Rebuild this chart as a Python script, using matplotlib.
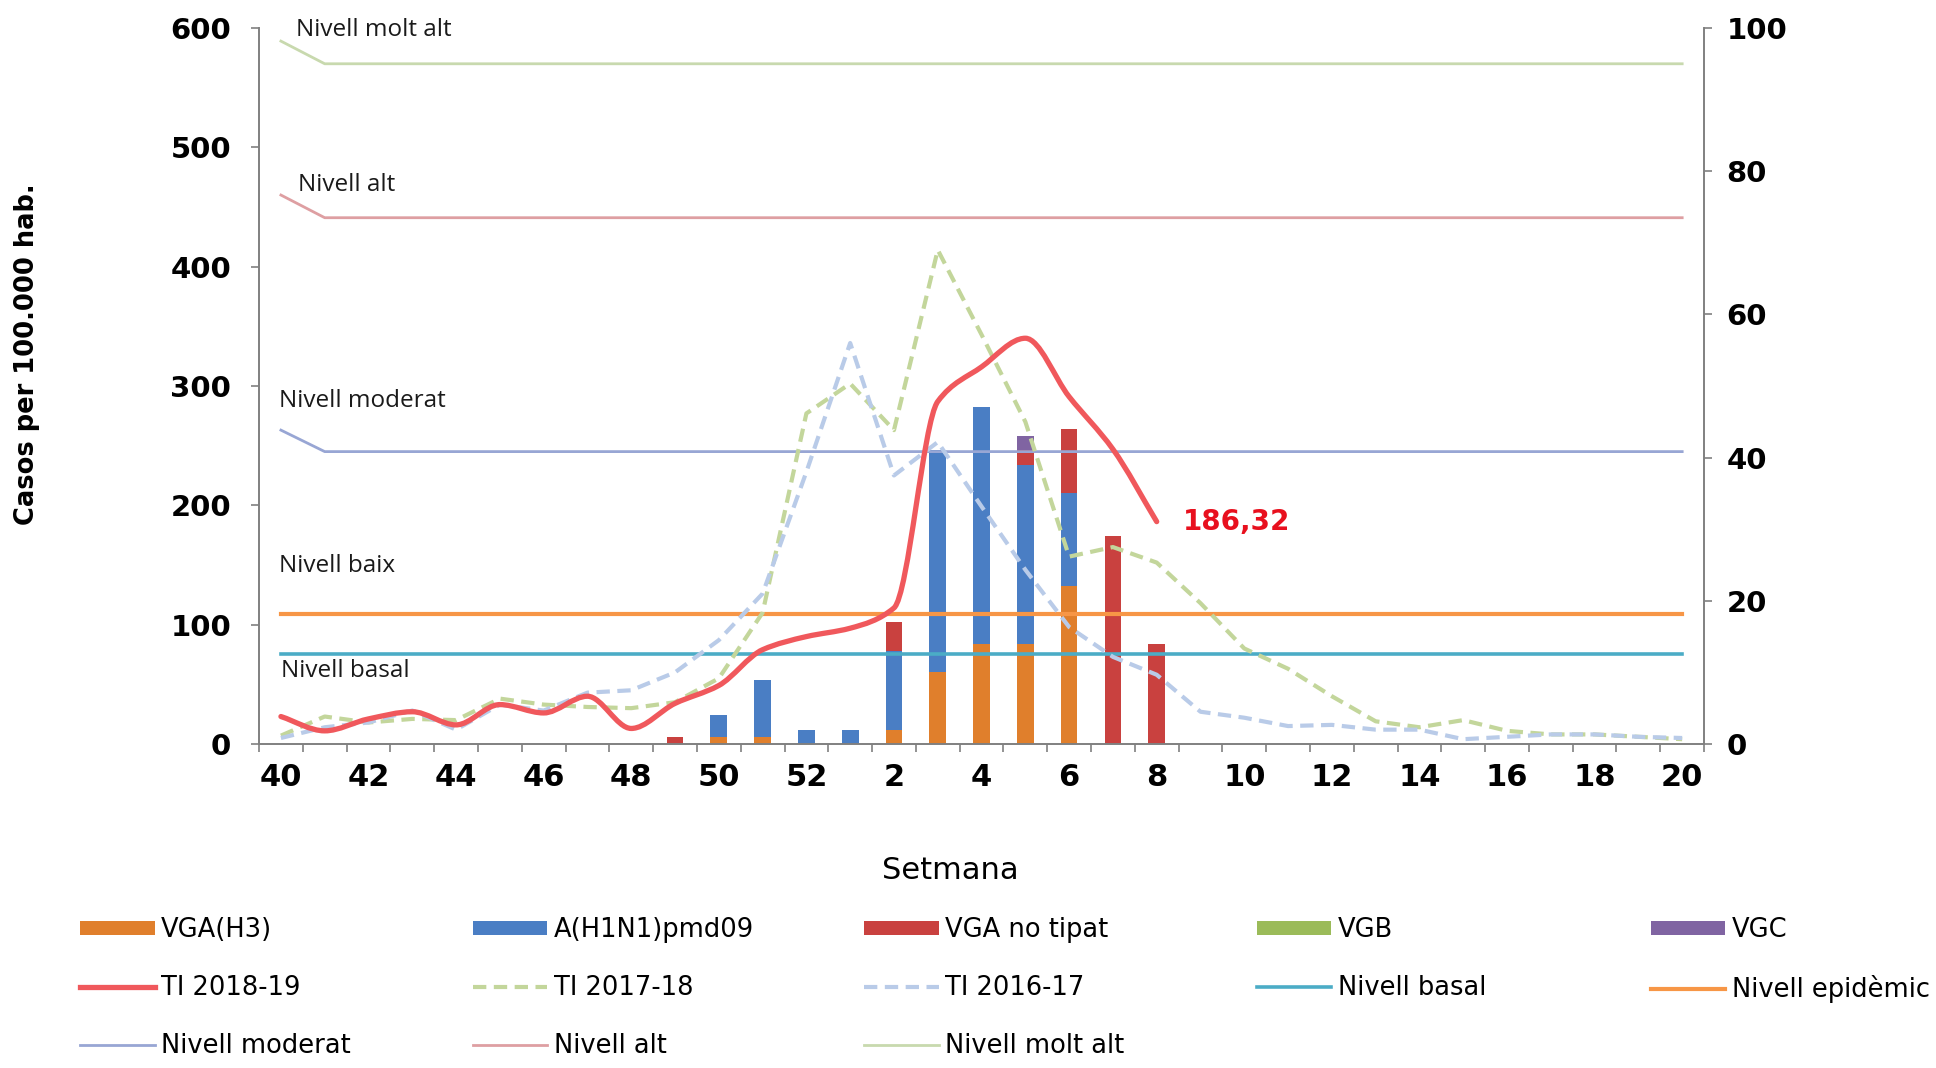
import numpy as np
import matplotlib.pyplot as plt
import matplotlib.patches as mpatches
from matplotlib.path import Path
from matplotlib.lines import Line2D

# setmanes de la temporada (40..52, 1..20)
setmanes = [40, 41, 42, 43, 44, 45, 46, 47, 48, 49, 50, 51, 52,
            1, 2, 3, 4, 5, 6, 7, 8, 9, 10, 11, 12, 13, 14, 15, 16, 17, 18, 19, 20]

# deteccions per tipus de virus (eix dret)
vga_h3 = [0, 0, 0, 0, 0, 0, 0, 0, 0, 0, 1, 1, 0, 0, 2, 10, 14, 14, 22, 0, 0,
          0, 0, 0, 0, 0, 0, 0, 0, 0, 0, 0, 0]
a_h1n1 = [0, 0, 0, 0, 0, 0, 0, 0, 0, 0, 3, 8, 2, 2, 11, 31, 33, 25, 13, 0, 0,
          0, 0, 0, 0, 0, 0, 0, 0, 0, 0, 0, 0]
vga_no_tipat = [0, 0, 0, 0, 0, 0, 0, 0, 0, 1, 0, 0, 0, 0, 4, 0, 0, 2, 9, 29, 14,
                0, 0, 0, 0, 0, 0, 0, 0, 0, 0, 0, 0]
vgb = [0, 0, 0, 0, 0, 0, 0, 0, 0, 0, 0, 0, 0, 0, 0, 0, 0, 0, 0, 0, 0,
       0, 0, 0, 0, 0, 0, 0, 0, 0, 0, 0, 0]
vgc = [0, 0, 0, 0, 0, 0, 0, 0, 0, 0, 0, 0, 0, 0, 0, 0, 0, 2, 0, 0, 0,
       0, 0, 0, 0, 0, 0, 0, 0, 0, 0, 0, 0]

# taxes d'incidencia (eix esquerre)
ti_2018_19 = [23, 11, 21, 27, 16, 33, 26, 40, 13, 34, 49, 79, 90, 97, 114,
              287, 316, 340, 291, 247, 186.32]
ti_2017_18 = [7, 23, 18, 21, 20, 38, 33, 31, 30, 35, 55, 110, 277, 302, 263,
              414, 343, 270, 157, 165, 152, 118, 80, 63, 40, 19, 14, 20, 11, 8, 8, 6, 4]
ti_2016_17 = [5, 14, 18, 28, 12, 33, 28, 43, 45, 60, 87, 126, 228, 336, 225,
              253, 199, 146, 98, 73, 58, 27, 22, 15, 16, 12, 12, 4, 6, 8, 8, 6, 5]

# llindars
nivell_basal = [75, 75, 75, 75, 75, 75, 75, 75, 75, 75, 75, 75, 75, 75, 75, 75, 75,
                75, 75, 75, 75, 75, 75, 75, 75, 75, 75, 75, 75, 75, 75, 75, 75]
nivell_epidemic = [109, 109, 109, 109, 109, 109, 109, 109, 109, 109, 109, 109, 109,
                   109, 109, 109, 109, 109, 109, 109, 109, 109, 109, 109, 109, 109,
                   109, 109, 109, 109, 109, 109, 109]
nivell_moderat = [263, 245, 245, 245, 245, 245, 245, 245, 245, 245, 245, 245, 245,
                  245, 245, 245, 245, 245, 245, 245, 245, 245, 245, 245, 245, 245,
                  245, 245, 245, 245, 245, 245, 245]
nivell_alt = [460, 441, 441, 441, 441, 441, 441, 441, 441, 441, 441, 441, 441, 441,
              441, 441, 441, 441, 441, 441, 441, 441, 441, 441, 441, 441, 441, 441,
              441, 441, 441, 441, 441]
nivell_molt_alt = [589, 570, 570, 570, 570, 570, 570, 570, 570, 570, 570, 570, 570,
                   570, 570, 570, 570, 570, 570, 570, 570, 570, 570, 570, 570, 570,
                   570, 570, 570, 570, 570, 570, 570]


def smooth_path(xs, ys):
    # traç suavitzat (Bezier amb tangents monòtones, sense sobrepassar)
    n = len(xs)
    d = [(ys[k + 1] - ys[k]) / (xs[k + 1] - xs[k]) for k in range(n - 1)]
    m = [d[0]]
    for k in range(1, n - 1):
        if d[k - 1] * d[k] <= 0:
            m.append(0.0)
        else:
            m.append(2 * d[k - 1] * d[k] / (d[k - 1] + d[k]))
    m.append(d[-1])
    verts = [(xs[0], ys[0])]
    codes = [Path.MOVETO]
    for k in range(n - 1):
        h = (xs[k + 1] - xs[k]) / 3
        verts += [(xs[k] + h, ys[k] + m[k] * h),
                  (xs[k + 1] - h, ys[k + 1] - m[k + 1] * h),
                  (xs[k + 1], ys[k + 1])]
        codes += [Path.CURVE4] * 3
    return Path(verts, codes)


fig = plt.figure(figsize=(19.36, 10.68), dpi=100)
ax = fig.add_axes([0.1338, 0.3034, 0.7464, 0.6704])
ax2 = ax.twinx()
ax.set_zorder(ax2.get_zorder() + 1)
ax.patch.set_visible(False)

x = np.arange(len(setmanes))

# barres apilades
bw = 0.38
bottom = np.zeros(len(x))
barres = []
for vals, col, lab in [(vga_h3, '#e07f2c', 'VGA(H3)'),
                       (a_h1n1, '#4a7ec4', 'A(H1N1)pmd09'),
                       (vga_no_tipat, '#c9413f', 'VGA no tipat'),
                       (vgb, '#9bbb59', 'VGB'),
                       (vgc, '#8064a2', 'VGC')]:
    b = ax2.bar(x, vals, bw, bottom=bottom, color=col, label=lab, linewidth=0)
    barres.append(b)
    bottom = bottom + np.array(vals)

# llindars
l_basal, = ax.plot(x, nivell_basal, color='#4bacc6', lw=2.6, label='Nivell basal')
l_epi, = ax.plot(x, nivell_epidemic, color='#f79646', lw=3.0, label='Nivell epidèmic')
l_mod, = ax.plot(x, nivell_moderat, color='#98a6d4', lw=2.0, label='Nivell moderat')
l_alt, = ax.plot(x, nivell_alt, color='#de9fa2', lw=2.0, label='Nivell alt')
l_molt, = ax.plot(x, nivell_molt_alt, color='#c8d9ae', lw=2.0, label='Nivell molt alt')

# temporades anteriors
l_1718, = ax.plot(x[:len(ti_2017_18)], ti_2017_18, color='#c3d69b', lw=3.0,
                  dashes=(3.2, 1.8), label='TI 2017-18')
l_1617, = ax.plot(x[:len(ti_2016_17)], ti_2016_17, color='#b9cbe8', lw=3.0,
                  dashes=(3.2, 1.8), label='TI 2016-17')

# temporada actual
red = '#f0585c'
xr = x[:len(ti_2018_19)]
ax.add_patch(mpatches.PathPatch(smooth_path(xr, ti_2018_19), facecolor='none',
                                edgecolor=red, lw=3.8, capstyle='round', zorder=5))
l_1819 = Line2D([], [], color=red, lw=3.8, label='TI 2018-19')
ax.text(xr[-1] + 0.6, ti_2018_19[-1], '186,32', color='#e8101e', fontsize=20,
        fontweight='bold', ha='left', va='center')

# etiquetes dels nivells
lab_kw = dict(fontsize=17.5, family='Open Sans', color='#1a1a1a', va='center', ha='left')
ax.text(0.35, 598, 'Nivell molt alt', **lab_kw)
ax.text(0.40, 468, 'Nivell alt', **lab_kw)
ax.text(-0.05, 287, 'Nivell moderat', **lab_kw)
ax.text(-0.05, 149, 'Nivell baix', **lab_kw)
ax.text(0.0, 61, 'Nivell basal', **lab_kw)

# eixos
ax.set_xlim(-0.5, len(x) - 0.5)
ax.set_ylim(0, 600)
ax2.set_ylim(0, 100)
ax.set_yticks(range(0, 601, 100))
ax2.set_yticks(range(0, 101, 20))
ax.set_xticks(x[::2])
ax.set_xticklabels(setmanes[::2])
ax.set_xticks(np.arange(-0.5, len(x), 1), minor=True)

spine_col = '#808080'
for s in ['top', 'right']:
    ax.spines[s].set_visible(False)
for s in ['top', 'left', 'bottom']:
    ax2.spines[s].set_visible(False)
for s in ['left', 'bottom']:
    ax.spines[s].set_color(spine_col)
    ax.spines[s].set_linewidth(1.4)
ax2.spines['right'].set_color(spine_col)
ax2.spines['right'].set_linewidth(1.4)

ax.tick_params(axis='x', which='major', length=0, pad=14, labelsize=22)
ax.tick_params(axis='x', which='minor', length=6, width=1.2, color=spine_col)
ax.tick_params(axis='y', length=6, width=1.2, color=spine_col, pad=14, labelsize=21)
ax2.tick_params(axis='y', length=6, width=1.2, color=spine_col, pad=10, labelsize=21)
for lbl in ax.get_xticklabels() + ax.get_yticklabels() + ax2.get_yticklabels():
    lbl.set_fontweight('bold')

fig.text(0.014, 0.668, 'Casos per 100.000 hab.', rotation=90, fontsize=18.5,
         fontweight='bold', ha='center', va='center')
fig.text(0.491, 0.185, 'Setmana', fontsize=22, ha='center', va='center')

# llegenda en 5 columnes
columnes = [[barres[0], l_1819, l_mod],
            [barres[1], l_1718, l_alt],
            [barres[2], l_1617, l_molt],
            [barres[3], l_basal],
            [barres[4], l_epi]]
col_x = [0.0415, 0.2443, 0.4464, 0.6492, 0.8527]
for hs, cx in zip(columnes, col_x):
    fig.legend(handles=hs, labels=[h.get_label() for h in hs], loc='upper left',
               bbox_to_anchor=(cx, 0.1414), frameon=False, fontsize=18.5,
               handlelength=2.9, handleheight=0.47, handletextpad=0.25,
               labelspacing=1.25, borderpad=0, borderaxespad=0)

fig.savefig('out.png', dpi=100, facecolor='white')
